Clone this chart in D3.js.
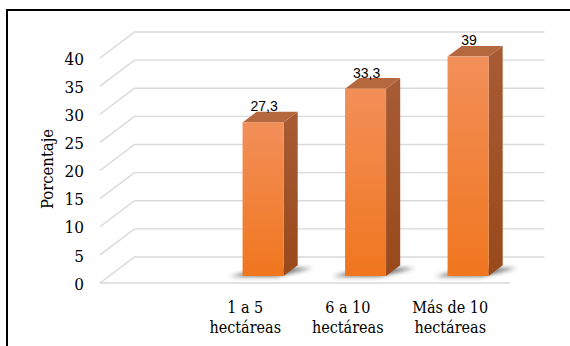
<!DOCTYPE html>
<html>
<head>
<meta charset="utf-8">
<script src="https://cdn.jsdelivr.net/npm/d3@7"></script>
<style>
  html, body { margin: 0; padding: 0; background: #fff; }
  svg { display: block; }
</style>
</head>
<body>
<svg id="chart" width="570" height="346"></svg>
<script>
// Farm size groups (the first slot is left empty) and their share, in percent
const categories = ["", "1 a 5|hectáreas", "6 a 10|hectáreas", "Más de 10|hectáreas"];
const values = [null, 27.3, 33.3, 39];
const valueLabels = ["", "27,3", "33,3", "39"];
const yTicks = [0, 5, 10, 15, 20, 25, 30, 35, 40];
const yTitle = "Porcentaje";

const SERIF = "'DejaVu Serif Condensed', 'DejaVu Serif', serif";
const SANS = "'Liberation Sans', Arial, sans-serif";

const svg = d3.select("#chart");
const W = 570, H = 346;

// Plot floor (front edge) and 3D depth offset
const plot = { left: 100, right: 510, bottom: 283, top: 58 };
const depth = { dx: 34.5, dy: -26 };
const barDepth = { front: 0.27, back: 0.68 };

const x = d3.scaleBand().domain(d3.range(categories.length))
  .range([plot.left, plot.right]).paddingInner(0.6).paddingOuter(0.3);
const y = d3.scaleLinear().domain([0, 40]).range([plot.bottom, plot.top]);

// project a point (px, value) at depth fraction f
const P = (px, v, f) => [px + f * depth.dx, y(v) + f * depth.dy];

const defs = svg.append("defs");
const gFront = defs.append("linearGradient").attr("id", "front").attr("x1", 0).attr("y1", 0).attr("x2", 0).attr("y2", 1);
gFront.append("stop").attr("offset", "0%").attr("stop-color", "#F28F59");
gFront.append("stop").attr("offset", "100%").attr("stop-color", "#F0761E");
const gSide = defs.append("linearGradient").attr("id", "side").attr("x1", 0).attr("y1", 0).attr("x2", 0).attr("y2", 1);
gSide.append("stop").attr("offset", "0%").attr("stop-color", "#A85C35");
gSide.append("stop").attr("offset", "100%").attr("stop-color", "#99491A");
defs.append("filter").attr("id", "soft").attr("x", "-30%").attr("y", "-100%").attr("width", "160%").attr("height", "300%")
  .append("feGaussianBlur").attr("stdDeviation", 2.2);

// frame
svg.append("line").attr("x1", 7).attr("x2", W).attr("y1", 10).attr("y2", 10).attr("stroke", "#000").attr("stroke-width", 2);
svg.append("line").attr("x1", 7).attr("x2", 7).attr("y1", 9).attr("y2", H).attr("stroke", "#000").attr("stroke-width", 2);

// gridlines: side wall diagonal + back wall
const grid = svg.append("g").attr("stroke", "#D9D9D9").attr("stroke-width", 1.4).attr("fill", "none");
yTicks.forEach(t => {
  const a = P(plot.left, t, 0), b = P(plot.left, t, 1), c = P(plot.right, t, 1);
  grid.append("polyline").attr("points", [a, b, c].map(p => p.join(",")).join(" "));
});
// floor front edge
grid.append("line").attr("x1", plot.left).attr("x2", plot.right).attr("y1", y(0)).attr("y2", y(0));

// y tick labels
const axis = svg.append("g").attr("transform", `translate(84,0)`)
  .call(d3.axisLeft(y).tickValues(yTicks).tickSize(0).tickPadding(0));
axis.select(".domain").remove();
axis.selectAll("text").style("font-family", SERIF).style("font-stretch", "condensed").style("font-size", "17px")
  .attr("fill", "#000").attr("dy", "0.36em");

// axis title
svg.append("text").attr("transform", "translate(53,169) rotate(-90)")
  .style("font-family", SERIF).style("font-stretch", "condensed").style("font-size", "16.5px")
  .attr("text-anchor", "middle").text(yTitle);

// bars
const bars = svg.append("g");
values.forEach((v, i) => {
  if (v == null) return;
  const x0 = x(i), x1 = x(i) + x.bandwidth();
  const fa = barDepth.front, fb = barDepth.back;
  // floor shadow
  const s = [P(x0 - 12, 0, fa - 0.02), P(x1 - 6, 0, fa - 0.02), P(x1 + 18, 0, fb - 0.1), P(x0 + 10, 0, fb - 0.1)];
  bars.append("polygon").attr("points", s.map(p => p.join(",")).join(" "))
    .attr("fill", "#3a3a3a").attr("opacity", 0.75).attr("filter", "url(#soft)");
  const fl = P(x0, 0, fa), fr = P(x1, 0, fa), tl = P(x0, v, fa), tr = P(x1, v, fa);
  const br = P(x1, 0, fb), btr = P(x1, v, fb), btl = P(x0, v, fb);
  bars.append("polygon").attr("points", [fr, br, btr, tr].map(p => p.join(",")).join(" ")).attr("fill", "url(#side)");
  bars.append("polygon").attr("points", [tl, tr, btr, btl].map(p => p.join(",")).join(" ")).attr("fill", "#B5673D");
  bars.append("rect").attr("x", fl[0]).attr("y", tl[1]).attr("width", fr[0] - fl[0]).attr("height", fl[1] - tl[1])
    .attr("fill", "url(#front)");
  // value label
  bars.append("text").attr("x", (tl[0] + tr[0]) / 2 + 1).attr("y", btl[1] - 0.5)
    .style("font-family", SANS).style("font-size", "14px")
    .attr("text-anchor", "middle").attr("fill", "#000").text(valueLabels[i]);
});

// category labels
const cat = svg.append("g").style("font-family", SERIF).style("font-stretch", "condensed").style("font-size", "16px")
  .attr("text-anchor", "middle").attr("fill", "#000");
categories.forEach((c, i) => {
  if (!c) return;
  const cx = x(i) + x.bandwidth() / 2 - 8.5;
  const t = cat.append("text").attr("x", cx).attr("y", 313);
  c.split("|").forEach((line, k) => t.append("tspan").attr("x", cx).attr("dy", k ? 20 : 0).text(line));
});
</script>
</body>
</html>
